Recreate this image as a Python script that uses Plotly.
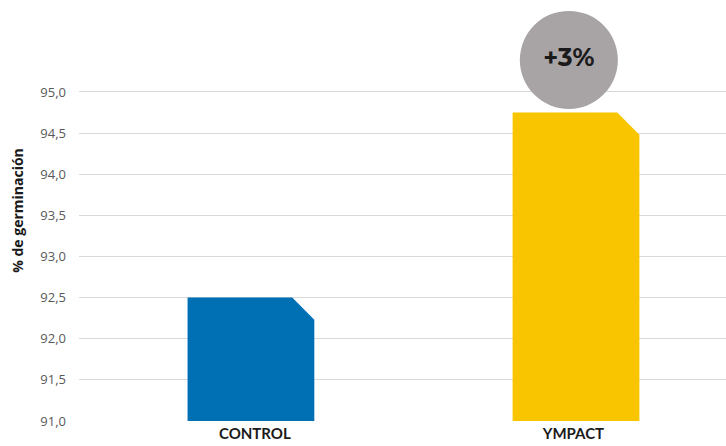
import plotly.graph_objects as go

categories = ["CONTROL", "YMPACT"]
values = [92.5, 94.75]
bar_colors = ["#0070B5", "#F9C500"]
badge_text = "+3%"
y_ticks = [91.0, 91.5, 92.0, 92.5, 93.0, 93.5, 94.0, 94.5, 95.0]
base = 91.0

bar_w = 0.39
cut_x = 0.068
cut_y = 0.27

fig = go.Figure()
for i, (cat, v, col) in enumerate(zip(categories, values, bar_colors)):
    x0, x1 = i - bar_w / 2, i + bar_w / 2
    xs = [x0, x0, x1 - cut_x, x1, x1, x0]
    ys = [base, v, v, v - cut_y, base, base]
    fig.add_trace(go.Scatter(x=xs, y=ys, fill="toself", fillcolor=col,
                             mode="lines", line=dict(width=0, color=col),
                             hoverinfo="skip", showlegend=False))

fig.add_trace(go.Scatter(
    x=[1 - 0.022], y=[values[1] + 0.64], mode="markers+text",
    marker=dict(size=98, color="#A8A4A5", line=dict(width=0)),
    text=[badge_text], textposition="middle center",
    textfont=dict(family="Montserrat, Lato, Open Sans, sans-serif", size=25, color="#1a1a1a", weight="bold"),
    cliponaxis=False, showlegend=False, hoverinfo="skip"))

fig.update_layout(
    width=726, height=446,
    margin=dict(l=79, r=0, t=0, b=25, autoexpand=False),
    paper_bgcolor="white", plot_bgcolor="white",
    separators=", ",
    xaxis=dict(range=[-0.529, 1.4615], tickvals=[0.012, 0.992], ticktext=categories,
               showgrid=False, zeroline=False, showline=False, ticks="",
               automargin=False,
               tickfont=dict(family="Lato, Open Sans, sans-serif", size=15, color="#1a1a1a", weight="bold"),
               ticklabelstandoff=2),
    yaxis=dict(range=[91.0, 96.118], tickvals=y_ticks, tickformat=".1f",
               showgrid=True, gridcolor="#D9D9D9", gridwidth=1, zeroline=False,
               showline=False, ticks="", automargin=False,
               tickfont=dict(family="Open Sans, sans-serif", size=13, color="#595959"),
               ticklabelstandoff=12,
               title=dict(text="% de germinación", standoff=13,
                          font=dict(family="Open Sans, sans-serif", size=14, color="#1a1a1a", weight="bold"))),
)

fig.write_html("out.html", config={"displayModeBar": False},
               post_script="document.body.style.margin='0';document.body.style.overflow='hidden';")
